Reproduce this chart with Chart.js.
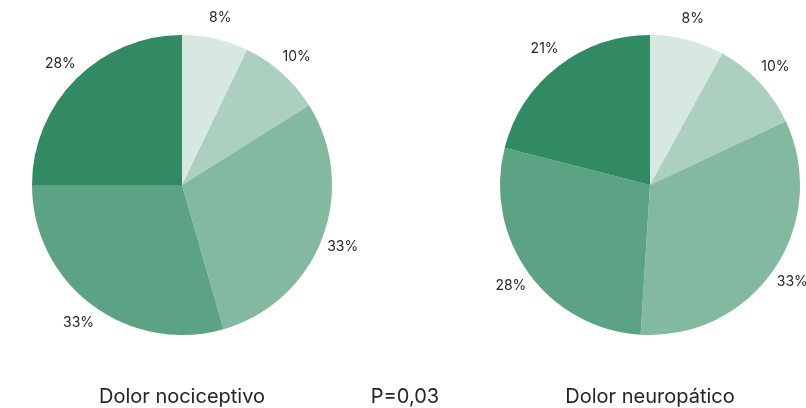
<!DOCTYPE html>
<html>
<head>
<meta charset="utf-8">
<script src="https://cdn.jsdelivr.net/npm/chart.js@4/dist/chart.umd.min.js"></script>
<style>
  html, body { margin: 0; padding: 0; background: #fff; }
  body { width: 806px; height: 408px; position: relative; overflow: hidden; font-family: Inter, "Noto Sans", sans-serif; color: #262626; }
  canvas { position: absolute; left: 0; top: 0; }
  .cap { position: absolute; font-size: 20px; transform: translateX(-50%); white-space: nowrap; top: 384px; }
</style>
</head>
<body>
<canvas id="nociceptivo" width="806" height="408"></canvas>
<canvas id="neuropatico" width="806" height="408"></canvas>
<div class="cap" style="left:182px">Dolor nociceptivo</div>
<div class="cap" style="left:405px">P=0,03</div>
<div class="cap" style="left:650px">Dolor neuropático</div>
<script>
    // slice percentages, clockwise from 12 o'clock
    const categories = ['A', 'B', 'C', 'D', 'E'];
    const nociceptivo = [8, 10, 33, 33, 28];
    const neuropatico = [8, 10, 33, 28, 21];
    const greens = ['#d6e8df', '#acd0bf', '#84b9a1', '#5ba384', '#318a63'];

    // percentage text just outside each slice
    const sliceLabels = {
      id: 'sliceLabels',
      afterDatasetsDraw(chart) {
        const ctx = chart.ctx;
        const values = chart.data.datasets[0].data;
        ctx.save();
        ctx.font = '14px Inter, "Noto Sans", sans-serif';
        ctx.fillStyle = '#262626';
        ctx.textAlign = 'center';
        ctx.textBaseline = 'middle';
        chart.getDatasetMeta(0).data.forEach((arc, i) => {
          const mid = (arc.startAngle + arc.endAngle) / 2;
          const r = arc.outerRadius + 22;
          ctx.fillText(values[i] + '%', arc.x + Math.cos(mid) * r, arc.y + Math.sin(mid) * r);
        });
        ctx.restore();
      }
    };

    function makePie(id, values, padding) {
      return new Chart(document.getElementById(id), {
        type: 'pie',
        data: {
          labels: categories,
          datasets: [{
            data: values,
            backgroundColor: greens,
            borderWidth: 0,
            hoverOffset: 0
          }]
        },
        options: {
          responsive: false,
          animation: false,
          layout: { padding: padding },
          plugins: {
            legend: { display: false },
            tooltip: { enabled: false }
          }
        },
        plugins: [sliceLabels]
      });
    }

    makePie('nociceptivo', nociceptivo, { left: 32, right: 474, top: 35, bottom: 73 });
    makePie('neuropatico', neuropatico, { left: 500, right: 6, top: 35, bottom: 73 });
</script>
</body>
</html>
